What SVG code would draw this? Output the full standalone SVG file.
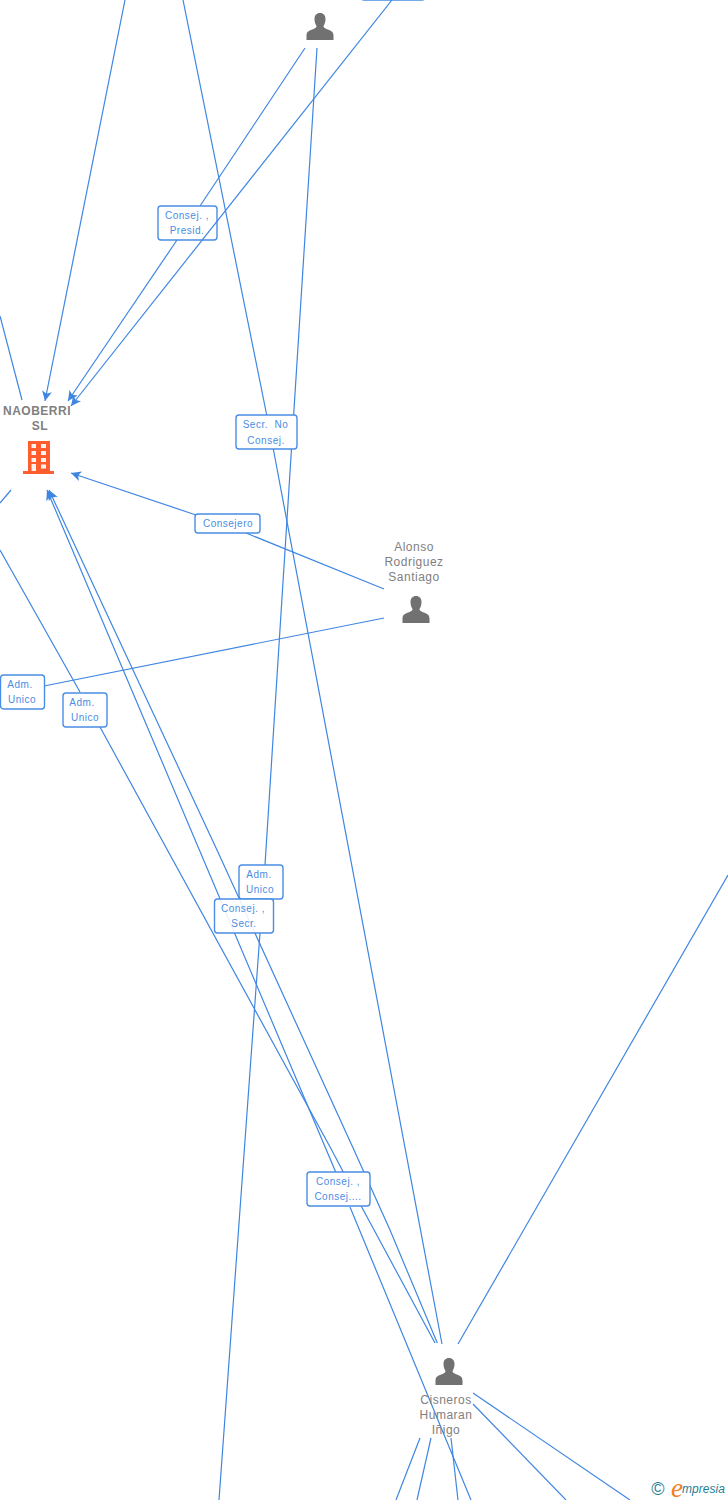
<svg xmlns="http://www.w3.org/2000/svg" width="728" height="1500" viewBox="0 0 728 1500">
<style>
.c{fill:none;stroke:#3f86e2;stroke-width:1.2}
.b{fill:#fff;stroke:#4a8de4;stroke-width:1.4}
.l{font:10px "Liberation Sans",Arial,sans-serif;letter-spacing:.5px;fill:#4a8de4;text-anchor:middle}
.n{font:12px "Liberation Sans",Arial,sans-serif;letter-spacing:.5px;fill:#808080;text-anchor:middle}
.nb{font:bold 12px "Liberation Sans",Arial,sans-serif;letter-spacing:.5px;fill:#808080;text-anchor:middle}
.p{fill:#717171}
</style>
<defs>
<marker id="a" markerUnits="userSpaceOnUse" markerWidth="12" markerHeight="10" refX="10" refY="5" orient="auto"><path d="M0 0L10 5L0 10L2.500 5Z" fill="#3f86e2"/></marker>
<symbol id="person" overflow="visible"><path class="p" d="M0 0C-3.500 0-5.500 2.500-5.500 6C-5.500 9-4.500 11.500-3.500 13C-3.500 14.500-4.500 15-6.500 16C-10 17.500-13.500 18-13.500 22.500L-13.500 27L13.500 27L13.500 22.500C13.500 18 10 17.500 6.500 16C4.500 15 3.500 14.500 3.500 13C4.500 11.500 5.500 9 5.500 6C5.500 2.500 3.500 0 0 0Z"/></symbol>
</defs>
<g id="connectors">
<path class="c" marker-end="url(#a)" d="M125 0L45 401"/>
<path class="c" d="M183 0L266.700 415M273.300 449L442 1344"/>
<path class="c" d="M305 48L200 206"/>
<path class="c" marker-end="url(#a)" d="M177 240L68 401"/>
<path class="c" d="M317 48L265 865M260 933L219 1500"/>
<path class="c" d="M0 316L22 400"/>
<path class="c" d="M384 589L246 533"/>
<path class="c" marker-end="url(#a)" d="M196 515L71 473"/>
<path class="c" d="M384 618L44 686"/>
<path class="c" d="M11 490L0 503"/>
<path class="c" d="M0 550L80 692M100 727L331.700 1150L361.700 1207L435 1343"/>
<path class="c" marker-end="url(#a)" d="M437.300 1343L390 1230L354 1150L217 850L49 490"/>
<path class="c" marker-end="url(#a)" d="M471 1500L350 1207M335.700 1172L47 490"/>
<path class="c" d="M458 1344L728 875"/>
<path class="c" d="M473 1393L630 1500"/>
<path class="c" d="M473 1404L566 1500"/>
<path class="c" d="M420 1438L396 1500"/>
<path class="c" d="M431 1438L417 1500"/>
<path class="c" d="M451 1438L458 1500"/>
</g>
<g id="edge-labels">
<rect class="b" x="361" y="-20" width="64" height="20" rx="3"/>
<g id="label-presid"><rect class="b" x="158" y="206" width="59" height="34" rx="3"/><text class="l" x="187" y="219">Consej. ,</text><text class="l" x="187" y="234">Presid.</text></g>
<g id="label-secr"><rect class="b" x="236" y="415" width="61" height="34" rx="3"/><text class="l" x="265.500" y="428">Secr.&#160; No</text><text class="l" x="266" y="444">Consej.</text></g>
<g id="label-consejero"><rect class="b" x="195" y="514" width="65" height="19" rx="3"/><text class="l" x="228" y="527">Consejero</text></g>
<g id="label-adm1"><rect class="b" x="0.500" y="675" width="44" height="34" rx="3"/><text class="l" x="20" y="688">Adm.</text><text class="l" x="22" y="703">Unico</text></g>
<g id="label-adm2"><rect class="b" x="63" y="693" width="44" height="34" rx="3"/><text class="l" x="82" y="706">Adm.</text><text class="l" x="85" y="721">Unico</text></g>
<g id="label-adm3"><rect class="b" x="239" y="865" width="44" height="34" rx="3"/><text class="l" x="259" y="878">Adm.</text><text class="l" x="260" y="893">Unico</text></g>
<g id="label-secr2"><rect class="b" x="214.500" y="899" width="59" height="34" rx="3" fill-opacity=".88" style="fill-opacity:.88"/><text class="l" x="243" y="912">Consej. ,</text><text class="l" x="244" y="927">Secr.</text></g>
<g id="label-consej"><rect class="b" x="307" y="1172" width="63" height="34" rx="3"/><text class="l" x="338" y="1185">Consej. ,</text><text class="l" x="338" y="1200">Consej....</text></g>
</g>
<g id="connectors-over">
<path class="c" marker-end="url(#a)" d="M392 0L71 406"/>
</g>
<g id="node-top"><use href="#person" x="320" y="13"/></g>
<g id="node-naoberri">
<text class="nb" x="37" y="415">NAOBERRI</text><text class="nb" x="40" y="430">SL</text>
<path fill="#ff5d2e" d="M28 441H50V471H54V474H23V471H28Z"/>
<g fill="#fff1ec"><rect x="31.500" y="444" width="4.500" height="4"/><rect x="41" y="444" width="5" height="4"/><rect x="31.500" y="451" width="4.500" height="4"/><rect x="41" y="451" width="5" height="4"/><rect x="31.500" y="458" width="4.500" height="4"/><rect x="41" y="458" width="5" height="4"/><rect x="31.500" y="464" width="4.500" height="7"/><rect x="41" y="464.500" width="5" height="4"/></g>
</g>
<g id="node-alonso">
<text class="n" x="414" y="551">Alonso</text><text class="n" x="414" y="566">Rodriguez</text><text class="n" x="414" y="581">Santiago</text>
<use href="#person" x="416" y="596"/>
</g>
<g id="node-cisneros">
<use href="#person" x="449" y="1358"/>
<text class="n" x="446" y="1404">Cisneros</text><text class="n" x="446" y="1419">Humaran</text><text class="n" x="446" y="1434">Iñigo</text>
</g>
<g id="logo">
<rect x="648" y="1478" width="80" height="22" fill="#fff"/>
<text x="658" y="1494.500" font-family="Liberation Sans,sans-serif" font-size="18" fill="#2e7f8f" text-anchor="middle">©</text>
<text x="671" y="1497" font-family="Liberation Serif,serif" font-style="italic" font-size="27" fill="#f08020">e</text>
<text x="682" y="1493" font-family="Liberation Sans,sans-serif" font-style="italic" font-size="12" textLength="43" fill="#1f7f96">mpresia</text>
</g>
</svg>
